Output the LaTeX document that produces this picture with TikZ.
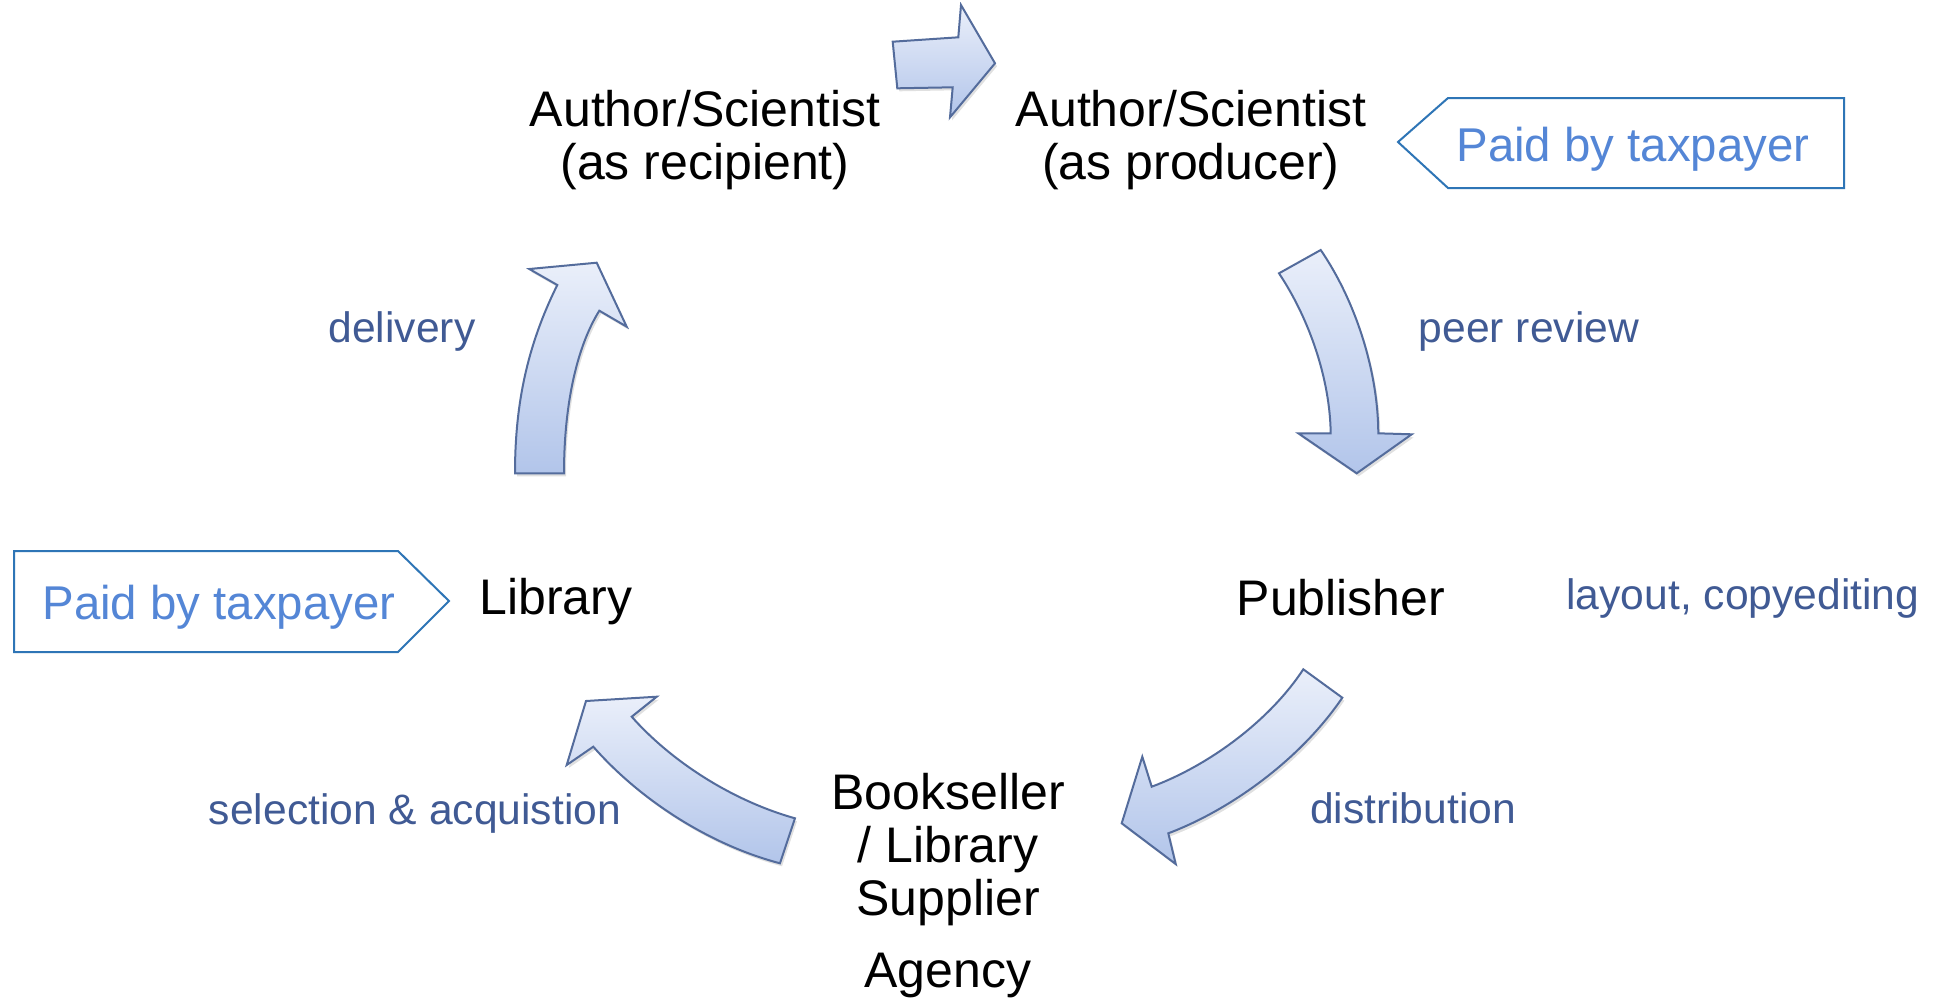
\documentclass[tikz,border=0pt]{standalone}
\usepackage{fontspec}
\setmainfont{Liberation Sans}
\definecolor{lbl}{RGB}{64,90,148}
\definecolor{paid}{RGB}{84,134,214}
\definecolor{paidline}{RGB}{46,117,182}
\definecolor{arrline}{RGB}{84,108,156}
\definecolor{arrtop}{RGB}{234,239,250}
\definecolor{arrbot}{RGB}{178,197,234}
\begin{document}
\begin{tikzpicture}[x=0.5pt,y=-0.5pt,
  main/.style={font=\fontsize{25}{26.5}\selectfont,align=center,inner sep=0pt,text=black},
  lab/.style={font=\fontsize{21.3}{24}\selectfont,inner sep=0pt,text=lbl},
  paidtxt/.style={font=\fontsize{23.7}{26}\selectfont,inner sep=0pt,text=paid},
  callout/.style={draw=paidline,line width=1pt,fill=white},
  blockarrow/.style={draw=arrline,line width=1pt,top color=arrtop,bottom color=arrbot,line join=miter},
  shadowarrow/.style={fill=black,opacity=0.12,draw=none}]
\useasboundingbox (0,0) rectangle (1934,997);
\fill[white] (0,0) rectangle (1934,997);

% callouts
\draw[callout] (1398,142) -- (1448,98) -- (1844,98) -- (1844,188) -- (1448,188) -- cycle;
\draw[callout] (14,551) -- (398,551) -- (449,601) -- (398,652) -- (14,652) -- cycle;
\node[paidtxt] (paidR) at (1633,149) {Paid by taxpayer};
\node[paidtxt] (paidL) at (219,607) {Paid by taxpayer};

% block arrows (shadow + body)
\def\arrA{(892.7,41.7) -- (958.3,37.3) -- (961,5) -- (995,63.3) -- (950,117.3) -- (952.7,87.3) -- (897.3,88.3) -- cycle}
\def\arrB{(1279,273.3) -- (1320.7,250) .. controls (1355,300) and (1378,370) .. (1378.3,433.3) -- (1411.7,434.3) -- (1356.7,473.3) -- (1298.3,433.3) -- (1330.7,433.3) .. controls (1330,380) and (1310,320) .. cycle}
\def\arrC{(1303.3,669.3) -- (1342.3,697.7) .. controls (1300,760) and (1230,810) .. (1168.3,833.3) -- (1175.7,864) -- (1121.7,823.3) -- (1142.3,756.7) -- (1151.7,786.7) .. controls (1210,765) and (1270,720) .. cycle}
\def\arrD{(780,863.3) -- (795,818.3) .. controls (730,800) and (670,760) .. (631.7,716.7) -- (656.7,696.7) -- (586,701) -- (566.7,765) -- (593.3,746.7) .. controls (640,800) and (710,845) .. cycle}
\def\arrE{(515,473.3) -- (564,473.3) .. controls (564,410) and (575,350) .. (599.3,310.7) -- (626.7,326.7) -- (596.7,262.7) -- (529.3,269) -- (557.3,285) .. controls (525,350) and (515,410) .. cycle}

\foreach \p in {\arrA,\arrB,\arrC,\arrD,\arrE}{
  \begin{scope}[shift={(2,3)}]
    \fill[shadowarrow] \p;
  \end{scope}
  \path[blockarrow] \p;
}

% main nodes
\node[main] (recipient) at (705,140) {Author/Scientist\\(as recipient)};
\node[main] (producer) at (1191,140) {Author/Scientist\\(as producer)};
\node[main] (library) at (556,602) {Library};
\node[main] (publisher) at (1341,598) {Publisher};
\node[main] (bookseller) at (948,850) {Bookseller\\/ Library\\Supplier};
\node[main] (agency) at (948,975) {Agency};

% labels
\node[lab] (delivery) at (402,331) {delivery};
\node[lab] (peer) at (1529,331) {peer review};
\node[lab,anchor=west] (layout) at (1566,598) {layout, copyediting};
\node[lab] (distribution) at (1413,808) {distribution};
\node[lab] (selection) at (415,813) {selection \& acquistion};
\end{tikzpicture}
\end{document}
